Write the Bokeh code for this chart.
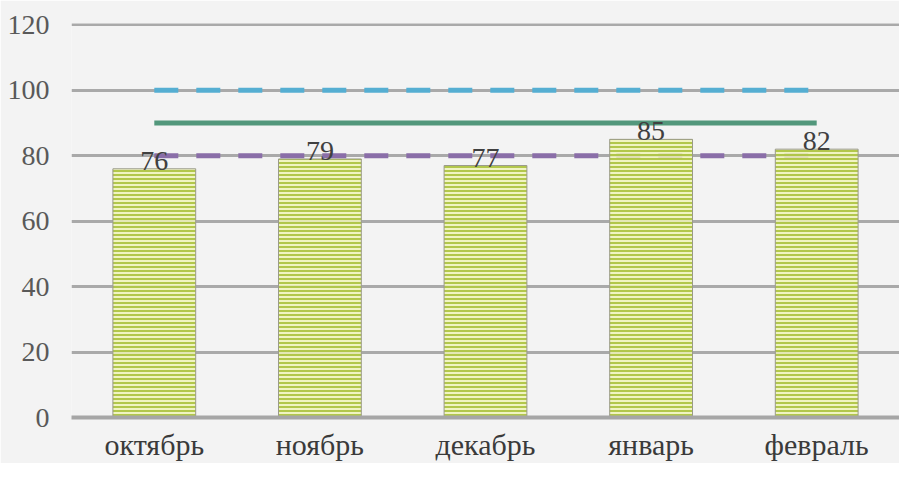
from bokeh.plotting import figure
from bokeh.models import Range1d, ColumnDataSource, FactorRange
from bokeh.core.properties import value
from bokeh.embed import file_html
from bokeh.resources import INLINE

months = ["октябрь", "ноябрь", "декабрь", "январь", "февраль"]
values = [76, 79, 77, 85, 82]
level_high = [100, 100, 100, 100, 100]
level_mid = [90, 90, 90, 90, 90]
level_low = [80, 80, 80, 80, 80]
y_ticks = [0, 20, 40, 60, 80, 100, 120]

FONT = "Liberation Serif"
BG = "#f3f3f3"

p = figure(width=899, height=463, x_range=FactorRange(*months),
           y_range=Range1d(0, 120.4), output_backend="svg",
           toolbar_location=None, min_border_left=71, min_border_right=0,
           min_border_top=23, min_border_bottom=39)
p.background_fill_color = BG
p.border_fill_color = BG
p.outline_line_color = None

src = ColumnDataSource(dict(m=months, v=values, lbl=[str(v) for v in values],
                            hi=level_high, mid=level_mid, lo=level_low))

p.line("m", "hi", source=src, line_color="#55aed2", line_width=5, line_dash="24 18")
p.line("m", "mid", source=src, line_color="#52977b", line_width=5)
p.line("m", "lo", source=src, line_color="#8a6ea8", line_width=5, line_dash="24 18")

p.vbar(x="m", top="v", source=src, width=0.5, bottom=0,
       fill_color="#eef3b8", fill_alpha=0.85, line_color="#9a9a8a", line_width=1,
       hatch_pattern="horizontal_line", hatch_color="#abc23e", hatch_scale=4,
       hatch_weight=2, hatch_alpha=0.9)

p.text(x="m", y="v", text="lbl", source=src, text_align="center",
       text_baseline="alphabetic", y_offset=-8, text_font=value(FONT),
       text_font_size="28px", text_color="#404040")

p.yaxis.ticker = y_ticks
p.yaxis.axis_line_color = None
p.yaxis.major_tick_line_color = None
p.yaxis.minor_tick_line_color = None
p.yaxis.major_label_text_font = FONT
p.yaxis.major_label_text_font_size = "28px"
p.yaxis.major_label_text_color = "#595959"
p.yaxis.major_label_standoff = 16

p.xaxis.axis_line_color = "#a6a6a6"
p.xaxis.axis_line_width = 4
p.xaxis.major_tick_line_color = None
p.xaxis.minor_tick_line_color = None
p.xaxis.major_label_text_font = FONT
p.xaxis.major_label_text_font_size = "30px"
p.xaxis.major_label_text_color = "#3a3a3a"
p.xaxis.major_label_standoff = 4

p.xgrid.grid_line_color = None
p.ygrid.grid_line_color = "#a9a9a9"
p.ygrid.grid_line_width = 3
p.ygrid.ticker = y_ticks

open("out.html", "w").write(file_html(p, INLINE))
